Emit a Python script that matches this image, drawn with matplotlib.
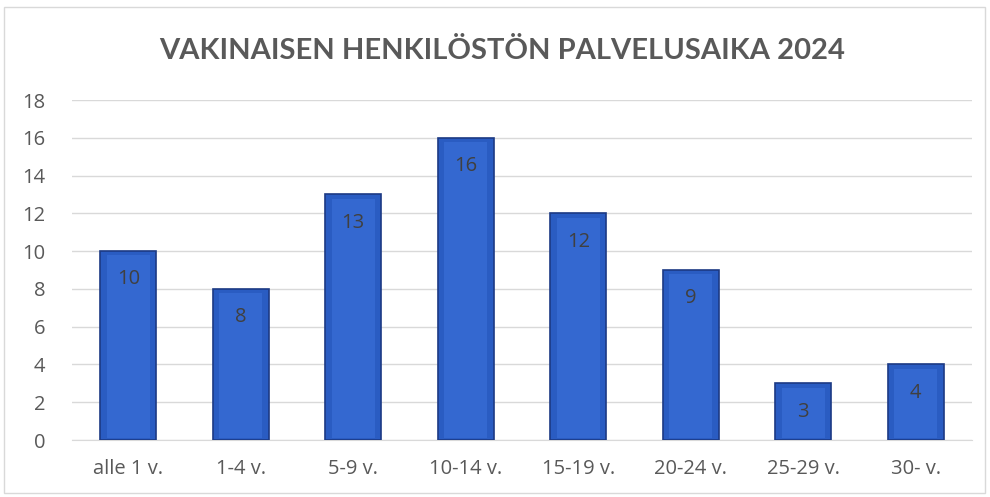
import numpy as np
from matplotlib import pyplot as plt
from matplotlib.patches import Rectangle

categories = ["alle 1 v.", "1-4 v.", "5-9 v.", "10-14 v.", "15-19 v.", "20-24 v.", "25-29 v.", "30- v."]
values = [10, 8, 13, 16, 12, 9, 3, 4]
yticks = [0, 2, 4, 6, 8, 10, 12, 14, 16, 18]

grey = "#595959"

fig = plt.figure(figsize=(9.9, 4.97), dpi=100)
fig.patches.append(Rectangle((4/990, 4/497), 981/990, 486/497, transform=fig.transFigure,
                             fill=False, edgecolor="#d9d9d9", linewidth=1))

ax = fig.add_axes([72/990, 57/497, 900/990, 340/497])
x = np.arange(len(categories))
bars = ax.bar(x, values, width=0.5, color="#2a5cc2", edgecolor="#1c3a84", linewidth=1.2, zorder=3)
# inner lighter face to mimic the bevel
ax.bar(x, np.array(values) - 0.35, width=0.38, bottom=0.12, color="#3468d0", linewidth=0, zorder=4)

for xi, v in zip(x, values):
    ax.text(xi, v - 1.5, str(v), ha="center", va="center", fontsize=14.5,
            color="#404040", family="Open Sans", zorder=5)

ax.set_xlim(-0.5, len(categories) - 0.5)
ax.set_ylim(0, 18)
ax.set_yticks(yticks)
ax.set_xticks(x)
ax.set_xticklabels(categories)
ax.grid(axis="y", color="#d9d9d9", linewidth=1, zorder=0)
for s in ["top", "right", "left"]:
    ax.spines[s].set_visible(False)
ax.spines["bottom"].set_color("#d9d9d9")
ax.tick_params(length=0, labelsize=14.5, labelcolor=grey)
ax.tick_params(axis="y", pad=19)
ax.tick_params(axis="x", pad=14)
for lab in ax.get_xticklabels() + ax.get_yticklabels():
    lab.set_family("Open Sans")

fig.text(0.507, 1 - 51/497, "VAKINAISEN HENKILÖSTÖN PALVELUSAIKA 2024", ha="center", va="center",
         fontsize=21, fontweight="bold", color=grey, family="Lato")

fig.savefig("out.png", dpi=100)
